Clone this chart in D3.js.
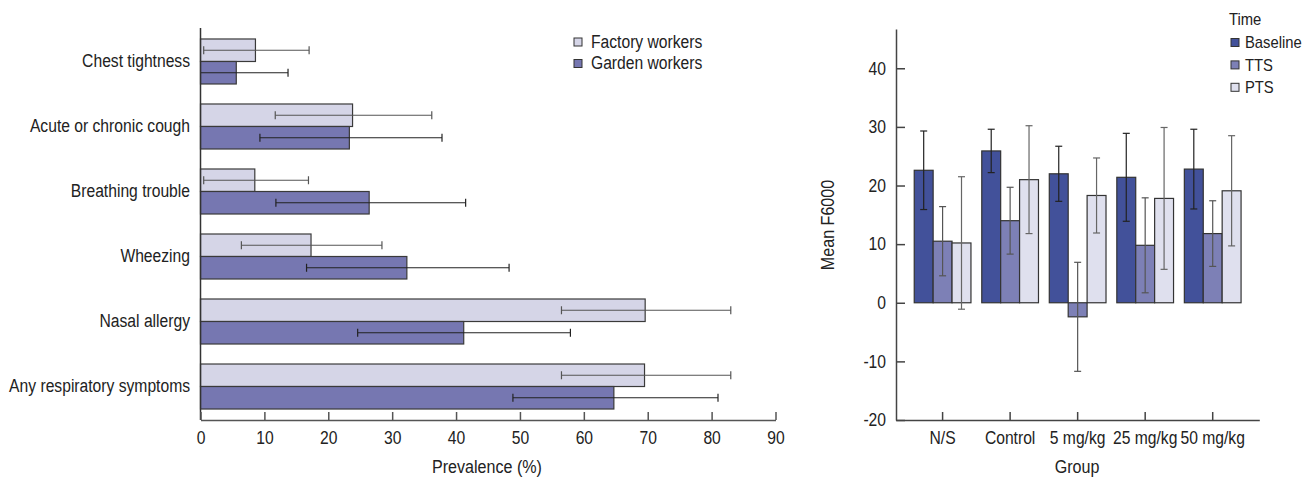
<!DOCTYPE html>
<html>
<head>
<meta charset="utf-8">
<script src="https://cdn.jsdelivr.net/npm/d3@7"></script>
<style>
  html, body { margin: 0; padding: 0; background: #fff; }
  svg { display: block; }
  text { font-family: "Liberation Sans", Arial, sans-serif; fill: #222; }
</style>
</head>
<body>
<svg id="chart" width="1304" height="477"></svg>
<script>
// ---- Left panel: prevalence of respiratory symptoms ----
const symptoms = ["Chest tightness", "Acute or chronic cough", "Breathing trouble",
                  "Wheezing", "Nasal allergy", "Any respiratory symptoms"];
const workerGroups = ["Factory workers", "Garden workers"];
const factoryPrev = [8.6, 23.8, 8.5, 17.3, 69.6, 69.5];
const factoryLow  = [0.5, 11.7, 0.5, 6.4, 56.5, 56.5];
const factoryHigh = [17.0, 36.2, 16.9, 28.4, 83.0, 83.0];
const gardenPrev  = [5.6, 23.3, 26.4, 32.3, 41.2, 64.7];
const gardenLow   = [-2.5, 9.3, 11.8, 16.6, 24.6, 48.9];
const gardenHigh  = [13.7, 37.8, 41.5, 48.3, 57.9, 81.0];
const prevTicks   = [0, 10, 20, 30, 40, 50, 60, 70, 80, 90];

// ---- Right panel: mean F6000 by group and time ----
const doseGroups = ["N/S", "Control", "5 mg/kg", "25 mg/kg", "50 mg/kg"];
const times = ["Baseline", "TTS", "PTS"];
const baselineMean = [22.6, 25.9, 22.0, 21.4, 22.8];
const baselineErr  = [6.7, 3.7, 4.7, 7.5, 6.8];
const ttsMean      = [10.5, 14.0, -2.4, 9.8, 11.8];
const ttsErr       = [5.9, 5.7, 9.3, 8.1, 5.6];
const ptsMean      = [10.2, 21.0, 18.3, 17.8, 19.1];
const ptsErr       = [11.3, 9.2, 6.4, 12.1, 9.4];
const f6000Ticks   = [-20, -10, 0, 10, 20, 30, 40];

const svg = d3.select("#chart");
const FS = 18;          // label font size
const TITLE_FS = 18.5;  // axis title font size
const LEGEND2_FS = 17;  // right-hand legend font size
const SQUEEZE = 0.87;   // horizontal condensing of all text

// narrow every text horizontally about its own anchor point
function condense(sel) {
  sel.each(function () {
    const t = d3.select(this);
    const x = +t.attr("x") || 0;
    const prev = t.attr("transform") || "";
    t.attr("transform", `${prev} translate(${x},0) scale(${SQUEEZE},1) translate(${-x},0)`);
  });
}

// ===== Left panel =====
{
  const x = d3.scaleLinear().domain([0, 90]).range([200.5, 775.5]);
  const y = d3.scaleBand().domain(symptoms).range([28, 420])
    .paddingInner(0.3077).paddingOuter(0.169);
  const sub = d3.scaleBand().domain(workerGroups).range([0, y.bandwidth()]);
  const fill = { "Factory workers": "#d5d5e7", "Garden workers": "#7677b1" };
  const errColor = { "Factory workers": "#555", "Garden workers": "#222" };

  const rows = symptoms.map((s, i) => [
    { cat: s, grp: "Factory workers", v: factoryPrev[i], lo: factoryLow[i], hi: factoryHigh[i] },
    { cat: s, grp: "Garden workers",  v: gardenPrev[i],  lo: gardenLow[i],  hi: gardenHigh[i] }
  ]).flat();

  const g = svg.append("g");
  g.selectAll("rect.bar").data(rows).join("rect")
    .attr("class", "bar")
    .attr("x", x(0))
    .attr("y", d => y(d.cat) + sub(d.grp))
    .attr("width", d => x(d.v) - x(0))
    .attr("height", sub.bandwidth())
    .attr("fill", d => fill[d.grp])
    .attr("stroke", "#3a3a3a").attr("stroke-width", 1.2);

  // error bars (clipped at the zero line)
  const eb = g.selectAll("g.err").data(rows).join("g").attr("class", "err")
    .attr("stroke", d => errColor[d.grp]).attr("stroke-width", 1.2);
  const cy = d => y(d.cat) + sub(d.grp) + sub.bandwidth() / 2;
  eb.append("line")
    .attr("x1", d => x(Math.max(0, d.lo))).attr("x2", d => x(d.hi))
    .attr("y1", cy).attr("y2", cy);
  eb.filter(d => d.lo > 0).append("line")
    .attr("x1", d => x(d.lo)).attr("x2", d => x(d.lo))
    .attr("y1", d => cy(d) - 4).attr("y2", d => cy(d) + 4);
  eb.append("line")
    .attr("x1", d => x(d.hi)).attr("x2", d => x(d.hi))
    .attr("y1", d => cy(d) - 4).attr("y2", d => cy(d) + 4);

  // y axis line and category labels
  g.append("line").attr("x1", x(0)).attr("x2", x(0)).attr("y1", 28).attr("y2", 420)
    .attr("stroke", "#333").attr("stroke-width", 1.5);
  g.selectAll("text.cat").data(symptoms).join("text")
    .attr("class", "cat")
    .attr("x", 190).attr("y", d => y(d) + y.bandwidth() / 2)
    .attr("text-anchor", "end").attr("dominant-baseline", "central")
    .style("font-size", FS + "px").text(d => d);

  // x axis with inward ticks
  const xa = g.append("g").attr("transform", "translate(0,420)")
    .call(d3.axisBottom(x).tickValues(prevTicks).tickFormat(d => String(d))
      .tickSize(-8).tickPadding(11.5).tickSizeOuter(0));
  xa.select(".domain").attr("stroke", "#555").attr("stroke-width", 1.5);
  xa.selectAll(".tick line").attr("stroke", "#555").attr("stroke-width", 1.5);
  xa.selectAll(".tick text").style("font-size", FS + "px").attr("fill", "#222")
    .attr("font-family", null);
  g.append("text").attr("x", 487).attr("y", 467).attr("text-anchor", "middle")
    .attr("dominant-baseline", "central").style("font-size", TITLE_FS + "px").text("Prevalence (%)");

  // legend
  const lg = g.selectAll("g.leg").data(workerGroups).join("g").attr("class", "leg")
    .attr("transform", (d, i) => `translate(574,${42 + i * 21.5})`);
  lg.append("rect").attr("x", 0).attr("y", -4).attr("width", 8).attr("height", 8)
    .attr("fill", d => fill[d]).attr("stroke", "#333").attr("stroke-width", 1);
  lg.append("text").attr("x", 17).attr("y", 0).attr("dominant-baseline", "central")
    .style("font-size", FS + "px").text(d => d);
}

// ===== Right panel =====
{
  const y = d3.scaleLinear().domain([-20, 46.7]).range([420, 29]);
  const x = d3.scaleBand().domain(doseGroups).range([896, 1259.3])
    .paddingInner(0.16).paddingOuter(0.27);
  const sub = d3.scaleBand().domain(times).range([0, x.bandwidth()]);
  const fill = { "Baseline": "#42519a", "TTS": "#7d80b6", "PTS": "#dfe0ee" };
  const errColor = { "Baseline": "#222", "TTS": "#555", "PTS": "#666" };
  const means = { "Baseline": baselineMean, "TTS": ttsMean, "PTS": ptsMean };
  const errs = { "Baseline": baselineErr, "TTS": ttsErr, "PTS": ptsErr };

  const rows = doseGroups.map((gname, i) => times.map(t => (
    { grp: gname, t, v: means[t][i], e: errs[t][i] }))).flat();

  const g = svg.append("g");
  g.selectAll("rect.bar").data(rows).join("rect")
    .attr("class", "bar")
    .attr("x", d => x(d.grp) + sub(d.t))
    .attr("y", d => y(Math.max(0, d.v)))
    .attr("width", sub.bandwidth())
    .attr("height", d => Math.abs(y(d.v) - y(0)))
    .attr("fill", d => fill[d.t])
    .attr("stroke", "#333").attr("stroke-width", 1.2);

  const cx = d => x(d.grp) + sub(d.t) + sub.bandwidth() / 2;
  const eb = g.selectAll("g.err").data(rows).join("g").attr("class", "err")
    .attr("stroke", d => errColor[d.t]).attr("stroke-width", 1.2);
  eb.append("line").attr("x1", cx).attr("x2", cx)
    .attr("y1", d => y(d.v - d.e)).attr("y2", d => y(d.v + d.e));
  eb.append("line").attr("x1", d => cx(d) - 3.5).attr("x2", d => cx(d) + 3.5)
    .attr("y1", d => y(d.v + d.e)).attr("y2", d => y(d.v + d.e));
  eb.append("line").attr("x1", d => cx(d) - 3.5).attr("x2", d => cx(d) + 3.5)
    .attr("y1", d => y(d.v - d.e)).attr("y2", d => y(d.v - d.e));

  // y axis with inward ticks
  const ya = g.append("g").attr("transform", "translate(896,0)")
    .call(d3.axisLeft(y).tickValues(f6000Ticks).tickFormat(d => String(d))
      .tickSize(-9).tickPadding(10).tickSizeOuter(0));
  ya.select(".domain").attr("stroke", "#444").attr("stroke-width", 1.5);
  ya.selectAll(".tick line").attr("stroke", "#444").attr("stroke-width", 1.5);
  ya.selectAll(".tick text").style("font-size", FS + "px").attr("fill", "#222")
    .attr("font-family", null);

  // x axis with inward ticks
  const xa = g.append("g").attr("transform", "translate(0,420)")
    .call(d3.axisBottom(x).tickSize(-8).tickPadding(11.5).tickSizeOuter(0));
  xa.select(".domain").attr("stroke", "#444").attr("stroke-width", 1.5);
  xa.selectAll(".tick line").attr("stroke", "#444").attr("stroke-width", 1.5);
  xa.selectAll(".tick text").style("font-size", FS + "px").attr("fill", "#222")
    .attr("font-family", null);

  g.append("text").attr("x", 1077).attr("y", 467).attr("text-anchor", "middle")
    .attr("dominant-baseline", "central").style("font-size", TITLE_FS + "px").text("Group");
  g.append("text").attr("transform", "translate(828,225) rotate(-90)")
    .attr("text-anchor", "middle").attr("dominant-baseline", "central")
    .style("font-size", TITLE_FS + "px").text("Mean F6000");

  // legend
  g.append("text").attr("x", 1229).attr("y", 19).attr("dominant-baseline", "central")
    .style("font-size", LEGEND2_FS + "px").text("Time");
  const lg = g.selectAll("g.leg").data(times).join("g").attr("class", "leg")
    .attr("transform", (d, i) => `translate(1231,${42.5 + i * 22.4})`);
  lg.append("rect").attr("x", 0).attr("y", -4).attr("width", 8).attr("height", 8)
    .attr("fill", d => fill[d]).attr("stroke", "#333").attr("stroke-width", 1);
  lg.append("text").attr("x", 14).attr("y", 0).attr("dominant-baseline", "central")
    .style("font-size", LEGEND2_FS + "px").text(d => d);
}

svg.selectAll("text").call(condense);
</script>
</body>
</html>
